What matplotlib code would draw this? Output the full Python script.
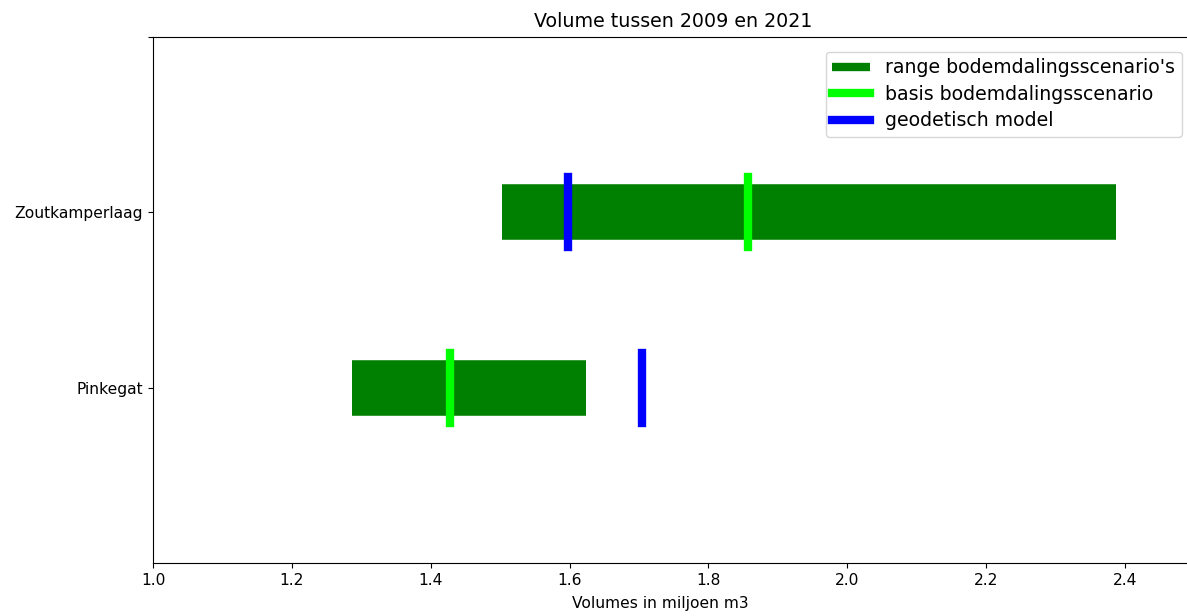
import matplotlib
matplotlib.use("Agg")
import matplotlib.pyplot as plt
from matplotlib.lines import Line2D

# Volumes (miljoen m3) per kombergingsgebied
gebieden = ["Pinkegat", "Zoutkamperlaag"]
range_min = [1.287, 1.502]
range_max = [1.624, 2.387]
basis = [1.428, 1.857]
geodetisch = [1.704, 1.598]

fig = plt.figure(figsize=(11.87, 6.16), dpi=100)
ax = fig.add_axes([0.129, 0.086, 0.877, 0.854])

ypos = list(range(len(gebieden)))

# range of subsidence scenarios as thick horizontal bands
ax.hlines(ypos, range_min, range_max, colors="green", linewidth=40)

# base scenario and geodetic model as short vertical markers
for y, b, g in zip(ypos, basis, geodetisch):
    ax.plot([b, b], [y - 0.2, y + 0.2], color="lime", linewidth=6)
    ax.plot([g, g], [y - 0.2, y + 0.2], color="blue", linewidth=6)

ax.set_xlim(1.0, 2.5)
ax.set_ylim(-1, 2)
ax.set_yticks(ypos + [2])
ax.set_yticklabels(gebieden + [""])
ax.set_xticks([1.0, 1.2, 1.4, 1.6, 1.8, 2.0, 2.2, 2.4])
ax.tick_params(labelsize=11.2, pad=4)

ax.set_title("Volume tussen 2009 en 2021", fontsize=13.7, pad=7)
ax.set_xlabel("Volumes in miljoen m3", fontsize=11.2, labelpad=4)
ax.xaxis.set_label_coords(0.487, -0.062)

handles = [
    Line2D([0], [0], color="green", linewidth=6, solid_capstyle="butt"),
    Line2D([0], [0], color="lime", linewidth=6),
    Line2D([0], [0], color="blue", linewidth=6),
]
labels = ["range bodemdalingsscenario's", "basis bodemdalingsscenario", "geodetisch model"]
ax.legend(handles, labels, loc="upper right", fontsize=13.6,
          bbox_to_anchor=(0.997, 0.99), borderpad=0.35, labelspacing=0.4)

fig.savefig("out.png", dpi=100)
